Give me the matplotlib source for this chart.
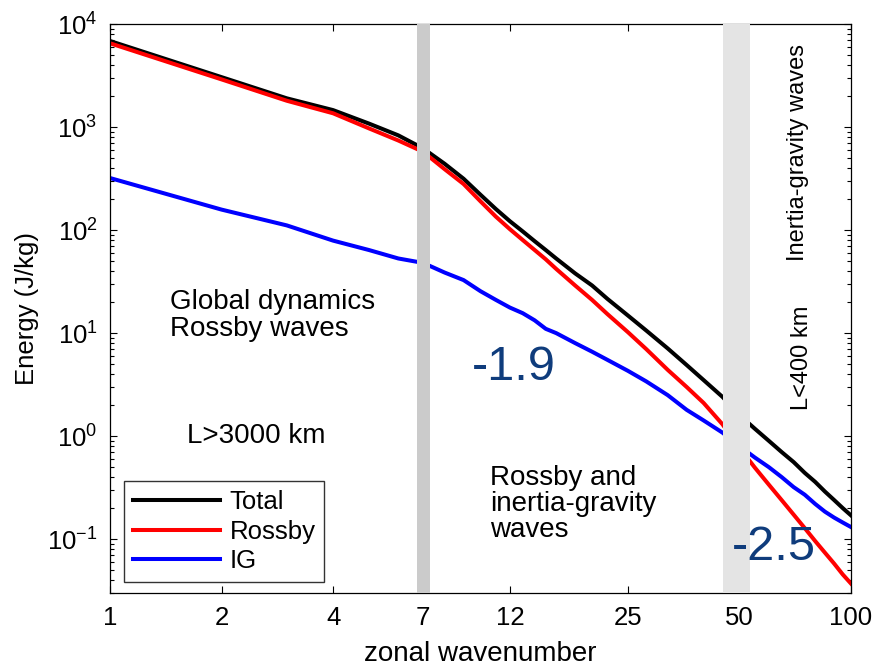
import numpy as np
import matplotlib
matplotlib.use("Agg")
import matplotlib.pyplot as plt
from matplotlib.ticker import FixedLocator, NullLocator, LogLocator

plt.rcParams['font.family'] = ['Liberation Sans', 'DejaVu Sans']
plt.rcParams['axes.unicode_minus'] = False

# zonal wavenumber
wavenumber = [1, 2, 3, 4, 5, 6, 7, 8, 9, 10, 11, 12, 13, 14, 15, 16, 18, 20,
              22, 25, 28, 32, 36, 40, 45, 50, 55, 60, 65, 70, 75, 80, 85, 90,
              95, 100]

# energy (J/kg)
total = [6840, 3050, 1900, 1460, 1080, 830, 620, 440, 315, 220, 160, 122, 97,
         78, 64, 53, 38, 29, 21.5, 14.8, 10.6, 7.1, 4.9, 3.5, 2.4, 1.6, 1.18,
         0.90, 0.70, 0.56, 0.44, 0.36, 0.29, 0.24, 0.20, 0.17]
rossby = [6500, 2900, 1800, 1360, 970, 740, 575, 390, 280, 190, 135, 102, 80,
          64, 52, 42, 29, 21, 15.3, 10.2, 7.0, 4.4, 3.0, 2.1, 1.3, 0.77, 0.495,
          0.338, 0.239, 0.173, 0.128, 0.096, 0.074, 0.058, 0.0454, 0.037]
ig = [320, 158, 111, 79, 64, 53, 48, 38.7, 32.7, 25.5, 21, 17.7, 15.6, 13.3,
      11, 10.0, 8.0, 6.6, 5.5, 4.3, 3.4, 2.5, 1.8, 1.42, 1.08, 0.8, 0.62, 0.5,
      0.40, 0.32, 0.27, 0.22, 0.185, 0.162, 0.145, 0.131]

series_names = ["Total", "Rossby", "IG"]
series_colors = ["black", "#ff0000", "#0000ff"]

# shaded wavenumber ranges (scale separations)
bands = [(6.74, 7.31), (45.0, 53.4)]
band_colors = ["#cbcbcb", "#e4e4e4"]

xticks = [1, 2, 4, 7, 12, 25, 50, 100]
xticklabels = ["1", "2", "4", "7", "12", "25", "50", "100"]


def main():
    fig = plt.figure(figsize=(8.76, 6.67), dpi=100)
    ax = fig.add_axes([0.1256, 0.1109, 0.8459, 0.8531])

    for data, name, c in zip([total, rossby, ig], series_names, series_colors):
        ax.plot(wavenumber, data, color=c, lw=2.9, label=name, zorder=2,
                solid_joinstyle='round')

    for (lo, hi), c in zip(bands, band_colors):
        ax.axvspan(lo, hi, color=c, lw=0, zorder=3)

    ax.set_xscale("log")
    ax.set_yscale("log")
    ax.set_xlim(1, 100)
    ax.set_ylim(0.03, 1e4)

    ax.xaxis.set_major_locator(FixedLocator(xticks))
    ax.set_xticklabels(xticklabels)
    ax.xaxis.set_minor_locator(NullLocator())
    ax.yaxis.set_major_locator(LogLocator(base=10, numticks=10))
    ax.yaxis.set_minor_locator(LogLocator(base=10, subs=np.arange(2, 10),
                                          numticks=20))

    ax.tick_params(which="both", direction="in", top=True, right=True,
                   width=0.8)
    ax.tick_params(which="major", length=5, labelsize=18.5, pad=9)
    ax.tick_params(which="minor", length=2.6)
    for sp in ax.spines.values():
        sp.set_linewidth(0.9)

    ax.set_xlabel("zonal wavenumber", fontsize=20, labelpad=8)
    ax.set_ylabel("Energy (J/kg)", fontsize=18.5, labelpad=6)

    # annotations
    ax.text(0.081, 0.535, "Global dynamics\nRossby waves", transform=ax.transAxes,
            fontsize=20, va="top", ha="left", linespacing=1.05, zorder=5)
    ax.text(0.1035, 0.2636, "L>3000 km", transform=ax.transAxes,
            fontsize=20, va="baseline", ha="left", zorder=5)
    ax.text(0.5128, 0.225, "Rossby and\ninertia-gravity\nwaves",
            transform=ax.transAxes, fontsize=20, va="top", ha="left",
            linespacing=1.0, zorder=5)
    ax.text(0.488, 0.3743, "-1.9", transform=ax.transAxes, fontsize=35,
            color="#0f3c7c", va="baseline", ha="left", zorder=5)
    ax.text(0.839, 0.058, "-2.5", transform=ax.transAxes, fontsize=35,
            color="#0f3c7c", va="baseline", ha="left", zorder=5)
    ax.text(0.9285, 0.775, "Inertia-gravity waves", transform=ax.transAxes,
            fontsize=17, rotation=90, va="center", ha="center", zorder=5)
    ax.text(0.934, 0.414, "L<400 km", transform=ax.transAxes,
            fontsize=17, rotation=90, va="center", ha="center", zorder=5)

    leg = ax.legend(loc="lower left", bbox_to_anchor=(0.019, 0.019),
                    borderaxespad=0, fontsize=18.5, fancybox=False,
                    framealpha=1, edgecolor="#333333", handlelength=3.4,
                    handletextpad=0.35, labelspacing=0.22, borderpad=0.35)
    leg.get_frame().set_linewidth(1.0)
    leg.set_zorder(6)

    fig.savefig("out.png", dpi=100)


if __name__ == "__main__":
    main()
